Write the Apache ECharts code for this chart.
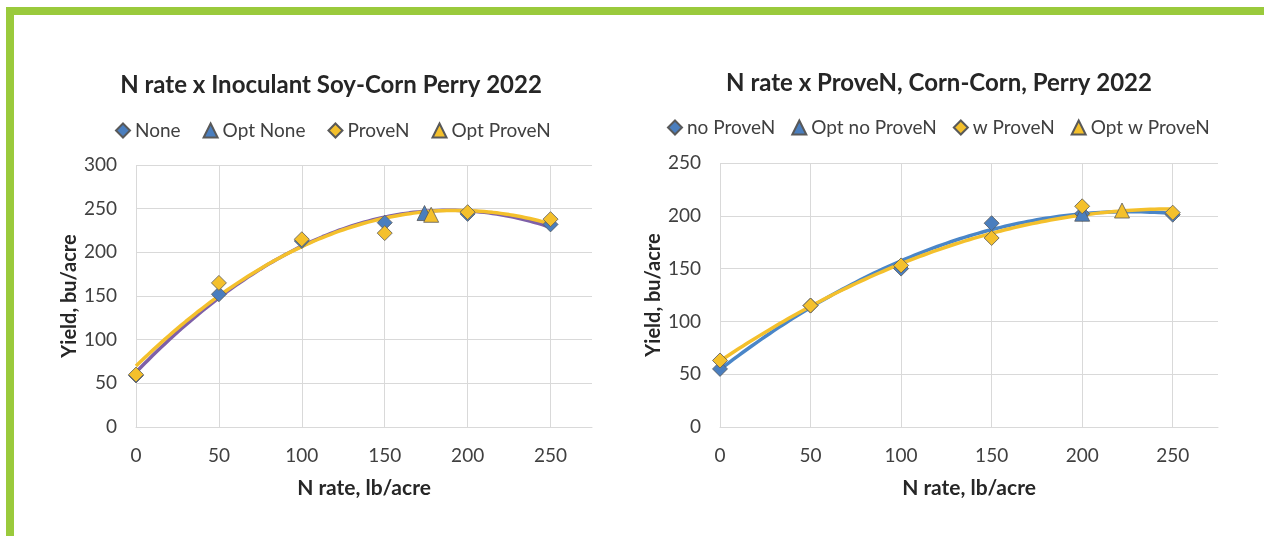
<!DOCTYPE html>
<html>
<head>
<meta charset="utf-8">
<script src="https://cdn.jsdelivr.net/npm/echarts@6/dist/echarts.min.js"></script>
<style>
  html, body { margin: 0; padding: 0; background: #fff; }
  #frame {
    position: absolute; left: 6px; top: 7px; width: 1250px; height: 521px;
    border-top: 8px solid #9aca3c; border-left: 8px solid #9aca3c;
  }
  #main { position: absolute; left: 0; top: 0; width: 1264px; height: 536px; }
</style>
</head>
<body>
<div id="frame"></div>
<div id="main"></div>
<script>
// N rate (lb/acre)
const nRates = [0, 50, 100, 150, 200, 250];

// left: Soy-Corn, inoculant
const soyNone = [59, 152, 213, 234, 244, 232];
const soyProveN = [60, 165, 215, 222, 246, 238];
const soyOptNone = [174, 245];
const soyOptProveN = [178, 243];

// right: Corn-Corn
const cornNoProveN = [55, 115, 150, 193, 202, 201];
const cornWProveN = [63, 115, 153, 179, 209, 203];
const cornOptNo = [200, 202];
const cornOptW = [222, 205];

const FONT = 'Lato';
const BLUE = '#4a7ebe';
const YELLOW = '#f4c02c';

// 2nd order polynomial trendline (least squares), like Excel's
function quadFit(xs, ys) {
  let s = [0, 0, 0, 0, 0], t = [0, 0, 0];
  xs.forEach((x, i) => {
    for (let k = 0; k < 5; k++) s[k] += Math.pow(x, k);
    for (let k = 0; k < 3; k++) t[k] += Math.pow(x, k) * ys[i];
  });
  const m = [[s[0], s[1], s[2], t[0]], [s[1], s[2], s[3], t[1]], [s[2], s[3], s[4], t[2]]];
  for (let c = 0; c < 3; c++) {
    for (let r = c + 1; r < 3; r++) {
      const f = m[r][c] / m[c][c];
      for (let k = c; k < 4; k++) m[r][k] -= f * m[c][k];
    }
  }
  const b = [0, 0, 0];
  for (let r = 2; r >= 0; r--) {
    let v = m[r][3];
    for (let k = r + 1; k < 3; k++) v -= m[r][k] * b[k];
    b[r] = v / m[r][r];
  }
  return b;
}
function trend(xs, ys) {
  const b = quadFit(xs, ys);
  const pts = [];
  for (let x = xs[0]; x <= xs[xs.length - 1]; x += 2.5) pts.push([x, b[0] + b[1] * x + b[2] * x * x]);
  return pts;
}
const pairs = ys => nRates.map((x, i) => [x, ys[i]]);

function xAxis(idx) {
  return {
    type: 'value', gridIndex: idx, min: 0, max: 275, interval: 50,
    name: 'N rate, lb/acre', nameLocation: 'middle', nameGap: 51,
    nameTextStyle: { fontFamily: FONT, fontSize: 21, fontWeight: 'bold', color: '#262626' },
    axisLine: { show: true, lineStyle: { color: '#d9d9d9' } },
    axisTick: { show: false },
    axisLabel: { fontFamily: FONT, fontSize: 19, color: '#404040', margin: 19,
      formatter: v => (v % 50 === 0 ? v : '') },
    splitLine: { show: true, showMaxLine: false, lineStyle: { color: '#d9d9d9' } }
  };
}
function yAxis(idx, max) {
  return {
    type: 'value', gridIndex: idx, min: 0, max: max, interval: 50,
    name: 'Yield, bu/acre', nameLocation: 'middle', nameGap: 55, nameRotate: 90,
    nameTextStyle: { fontFamily: FONT, fontSize: 20, fontWeight: 'bold', color: '#262626' },
    axisLine: { show: false }, axisTick: { show: false },
    axisLabel: { fontFamily: FONT, fontSize: 19, color: '#404040', margin: 19 },
    splitLine: { lineStyle: { color: '#d9d9d9' } }
  };
}
function marks(name, idx, symbol, color, data, size) {
  return {
    name: name, type: 'scatter', xAxisIndex: idx, yAxisIndex: idx,
    symbol: symbol, symbolSize: size, data: data, z: 5,
    itemStyle: { color: color, borderColor: '#595959', borderWidth: 0.8, opacity: 1 }
  };
}
function line(idx, color, data) {
  return {
    type: 'line', xAxisIndex: idx, yAxisIndex: idx, data: data, showSymbol: false,
    silent: true, z: 3, lineStyle: { color: color, width: 3.5 }
  };
}
const legendBase = {
  itemWidth: 14, itemHeight: 14, itemGap: 24,
  textStyle: { fontFamily: FONT, fontSize: 19, color: '#404040', padding: [0, 0, 0, 0] }
};

const chart = echarts.init(document.getElementById('main'), null, { renderer: 'canvas' });
chart.setOption({
  animation: false,
  title: [
    { text: 'N rate x Inoculant Soy-Corn Perry 2022', left: 326, top: 68, textAlign: 'center',
      textStyle: { fontFamily: FONT, fontSize: 24, fontWeight: 'bold', color: '#262626' } },
    { text: 'N rate x ProveN, Corn-Corn, Perry 2022', left: 934, top: 66, textAlign: 'center',
      textStyle: { fontFamily: FONT, fontSize: 24, fontWeight: 'bold', color: '#262626' } }
  ],
  legend: [
    Object.assign({}, legendBase, { left: 110, top: 116, itemGap: 22,
      data: ['None', 'Opt None', 'ProveN', 'Opt ProveN'] }),
    Object.assign({}, legendBase, { left: 662, top: 113, itemGap: 16,
      data: ['no ProveN', 'Opt no ProveN', 'w ProveN', 'Opt w ProveN'] })
  ],
  grid: [
    { left: 136, right: 672, top: 165, bottom: 109 },
    { left: 720, right: 46, top: 163, bottom: 109 }
  ],
  xAxis: [xAxis(0), xAxis(1)],
  yAxis: [yAxis(0, 300), yAxis(1, 250)],
  series: [
    line(0, '#7e60a8', trend(nRates, soyNone)),
    line(0, YELLOW, trend(nRates, soyProveN)),
    marks('None', 0, 'diamond', BLUE, pairs(soyNone), 15),
    marks('Opt None', 0, 'triangle', BLUE, [soyOptNone], 15),
    marks('ProveN', 0, 'diamond', YELLOW, pairs(soyProveN), 15),
    marks('Opt ProveN', 0, 'triangle', YELLOW, [soyOptProveN], 15),

    line(1, '#4a86c8', trend(nRates, cornNoProveN)),
    line(1, YELLOW, trend(nRates, cornWProveN)),
    marks('no ProveN', 1, 'diamond', BLUE, pairs(cornNoProveN), 15),
    marks('Opt no ProveN', 1, 'triangle', BLUE, [cornOptNo], 15),
    marks('w ProveN', 1, 'diamond', YELLOW, pairs(cornWProveN), 15),
    marks('Opt w ProveN', 1, 'triangle', YELLOW, [cornOptW], 15)
  ]
});
</script>
</body>
</html>
